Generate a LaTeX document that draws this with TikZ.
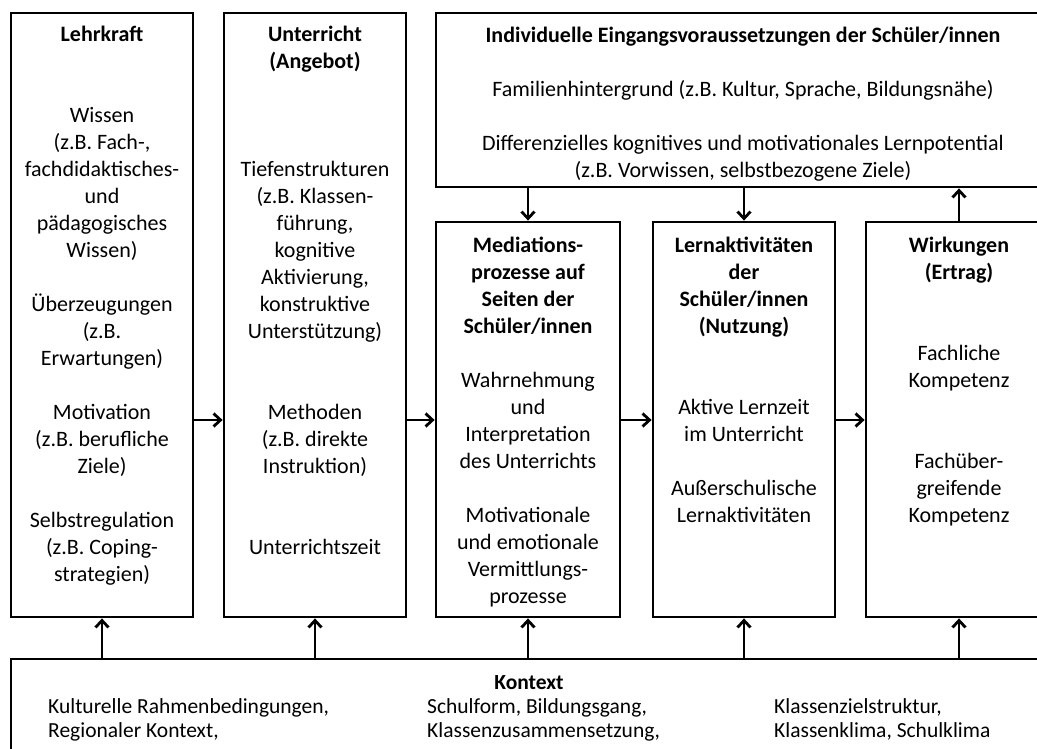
\documentclass[tikz,border=0pt]{standalone}
\usepackage{fontspec}
\setmainfont{Carlito}
\usetikzlibrary{arrows.meta}
\begin{document}
\begin{tikzpicture}[x=1pt,y=-1pt,
  box/.style={draw, line width=2.8pt, inner sep=0pt, fill=none},
  txt/.style={font=\fontsize{22}{27}\selectfont, align=center, inner sep=0pt, anchor=north},
  ktxt/.style={font=\fontsize{21.5}{24}\selectfont, align=left, inner sep=0pt, anchor=north west},
  arr/.style={line width=2.8pt, -{Straight Barb[length=7pt,width=13pt]}}]
\useasboundingbox (0,0) rectangle (1037,749);
\clip (0,0) rectangle (1037,749);

% frames
\node[box, minimum width=182pt, minimum height=604pt] (L) at (102,315) {};
\node[box, minimum width=182pt, minimum height=604pt] (U) at (315,315) {};
\node[box, minimum width=614pt, minimum height=174pt] (I) at (743,100) {};
\node[box, minimum width=184pt, minimum height=395pt] (M) at (528,419.5) {};
\node[box, minimum width=182pt, minimum height=395pt] (N) at (744,419.5) {};
\node[box, minimum width=186pt, minimum height=395pt] (W) at (959,419.5) {};
\node[box, minimum width=1038pt, minimum height=160pt] (K) at (530,739) {};

% texts
\node[txt] (Lt) at (102,22.7) {\strut\textbf{Lehrkraft}\\[54pt]
  Wissen\\ (z.B. Fach-,\\ fachdidaktisches-\\ und\\ pädagogisches\\ Wissen)\\[27pt]
  Überzeugungen\\ (z.B.\\ Erwartungen)\\[27pt]
  Motivation\\ (z.B. berufliche\\ Ziele)\\[27pt]
  Selbstregulation\\ (z.B. Coping-\\ strategien)};

\node[txt] (Ut) at (315,22.7) {\strut\textbf{Unterricht}\\ \textbf{(Angebot)}\\[81pt]
  Tiefenstrukturen\\ (z.B. Klassen-\\ führung,\\ kognitive\\ Aktivierung,\\ konstruktive\\ Unterstützung)\\[54pt]
  Methoden\\ (z.B. direkte\\ Instruktion)\\[54pt]
  Unterrichtszeit};

\node[txt] (It) at (743,23.7) {\strut\textbf{Individuelle Eingangsvoraussetzungen der Schüler/innen}\\[27pt]
  Familienhintergrund (z.B. Kultur, Sprache, Bildungsnähe)\\[27pt]
  Differenzielles kognitives und motivationales Lernpotential\\
  (z.B. Vorwissen, selbstbezogene Ziele)};

\node[txt] (Mt) at (528,233.7) {\strut\textbf{Mediations-}\\ \textbf{prozesse auf}\\ \textbf{Seiten der}\\ \textbf{Schüler/innen}\\[27pt]
  Wahrnehmung\\ und\\ Interpretation\\ des Unterrichts\\[27pt]
  Motivationale\\ und emotionale\\ Vermittlungs-\\ prozesse};

\node[txt] (Nt) at (744,233.7) {\strut\textbf{Lernaktivitäten}\\ \textbf{der}\\ \textbf{Schüler/innen}\\ \textbf{(Nutzung)}\\[54pt]
  Aktive Lernzeit\\ im Unterricht\\[27pt]
  Außerschulische\\ Lernaktivitäten};

\node[txt] (Wt) at (959,233.7) {\strut\textbf{Wirkungen}\\ \textbf{(Ertrag)}\\[54pt]
  Fachliche\\ Kompetenz\\[54pt]
  Fachüber-\\ greifende\\ Kompetenz};

\node[font=\bfseries\fontsize{21.5}{24}\selectfont, anchor=base, inner sep=0pt] (Kt) at (529,689.5) {Kontext};
\node[ktxt] (K1) at (48,696.5) {\strut Kulturelle Rahmenbedingungen,\\ Regionaler Kontext,};
\node[ktxt] (K2) at (427,696.5) {\strut Schulform, Bildungsgang,\\ Klassenzusammensetzung,};
\node[ktxt] (K3) at (774,696.5) {\strut Klassenzielstruktur,\\ Klassenklima, Schulklima};

% horizontal flow
\coordinate (ay) at (0,420);
\draw[arr] (L.east |- ay) -- (U.west |- ay);
\draw[arr] (U.east |- ay) -- (M.west |- ay);
\draw[arr] (M.east |- ay) -- (N.west |- ay);
\draw[arr] (N.east |- ay) -- (W.west |- ay);

% context influences
\draw[arr] (K.north -| L.south) -- (L.south);
\draw[arr] (K.north -| U.south) -- (U.south);
\draw[arr] (K.north -| M.south) -- (M.south);
\draw[arr] (K.north -| N.south) -- (N.south);
\draw[arr] (K.north -| W.south) -- (W.south);

% individual prerequisites
\draw[arr] (I.south -| M.north) -- (M.north);
\draw[arr] (I.south -| N.north) -- (N.north);
\draw[arr] (W.north) -- (I.south -| W.north);
\end{tikzpicture}
\end{document}
